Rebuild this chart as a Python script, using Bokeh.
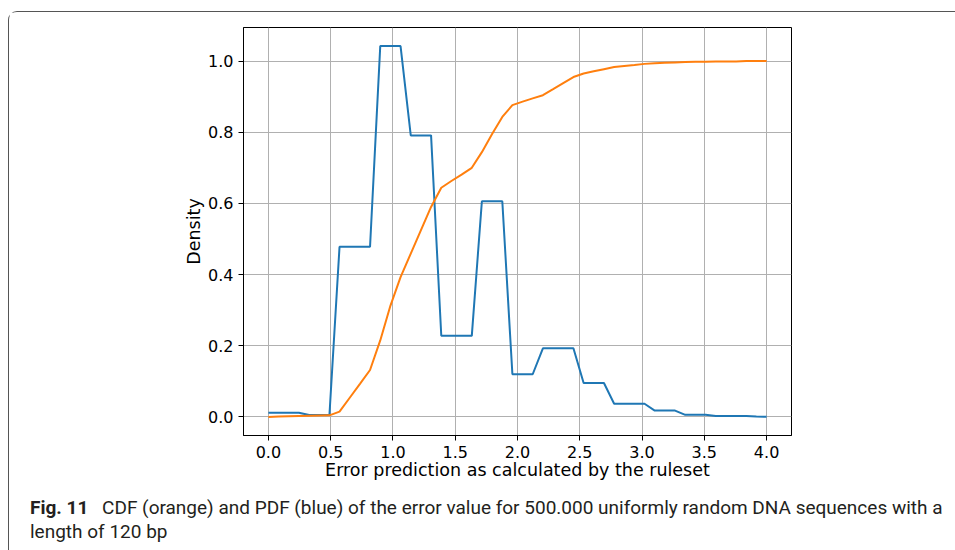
from bokeh.plotting import figure
from bokeh.models import Range1d, FixedTicker, ColumnDataSource, Div
from bokeh.layouts import column
from bokeh.embed import file_html
from bokeh.resources import INLINE

# sample positions (error value)
x_vals = [0.000, 0.082, 0.163, 0.245, 0.327, 0.408, 0.490, 0.571, 0.653, 0.735,
          0.816, 0.898, 0.980, 1.061, 1.143, 1.224, 1.306, 1.388, 1.469, 1.551,
          1.633, 1.714, 1.796, 1.878, 1.959, 2.041, 2.122, 2.204, 2.286, 2.367,
          2.449, 2.531, 2.612, 2.694, 2.776, 2.857, 2.939, 3.020, 3.102, 3.184,
          3.265, 3.347, 3.429, 3.510, 3.592, 3.673, 3.755, 3.837, 3.918, 4.000]

# PDF (blue)
pdf_vals = [0.012, 0.012, 0.012, 0.012, 0.0056, 0.0056, 0.0056, 0.478, 0.478, 0.478,
            0.478, 1.042, 1.042, 1.042, 0.791, 0.791, 0.791, 0.228, 0.228, 0.228,
            0.228, 0.606, 0.606, 0.606, 0.120, 0.120, 0.120, 0.193, 0.193, 0.193,
            0.193, 0.0955, 0.0955, 0.0955, 0.037, 0.037, 0.037, 0.037, 0.018, 0.018,
            0.018, 0.006, 0.006, 0.006, 0.0025, 0.0025, 0.0025, 0.0025, 0.0012, 0.0005]

# CDF (orange)
cdf_vals = [0.000, 0.001, 0.002, 0.003, 0.0035, 0.004, 0.0045, 0.015, 0.054, 0.093,
            0.132, 0.215, 0.313, 0.393, 0.459, 0.524, 0.590, 0.644, 0.663, 0.681,
            0.700, 0.744, 0.795, 0.843, 0.876, 0.886, 0.895, 0.904, 0.921, 0.938,
            0.955, 0.965, 0.971, 0.977, 0.983, 0.986, 0.989, 0.992, 0.994, 0.995,
            0.996, 0.997, 0.998, 0.998, 0.999, 0.999, 0.999, 1.000, 1.000, 1.000]

x_ticks = [0.0, 0.5, 1.0, 1.5, 2.0, 2.5, 3.0, 3.5, 4.0]
y_ticks = [0.0, 0.2, 0.4, 0.6, 0.8, 1.0]

x_label = "Error prediction as calculated by the ruleset"
y_label = "Density"
caption_bold = "Fig. 11"
caption_line1 = "CDF (orange) and PDF (blue) of the error value for 500.000 uniformly random DNA sequences with a"
caption_line2 = "length of 120 bp"

src = ColumnDataSource(dict(x=x_vals, pdf=pdf_vals, cdf=cdf_vals))

p = figure(width=946, height=478, output_backend="svg", toolbar_location=None,
           x_range=Range1d(-0.2, 4.2), y_range=Range1d(-0.0521, 1.0942),
           min_border_left=234, min_border_right=164, min_border_top=15,
           min_border_bottom=55, frame_width=548, frame_height=408)

p.line("x", "pdf", source=src, line_color="#1f77b4", line_width=2)
p.line("x", "cdf", source=src, line_color="#ff7f0e", line_width=2)

p.xaxis.ticker = FixedTicker(ticks=x_ticks)
p.yaxis.ticker = FixedTicker(ticks=y_ticks)
p.xaxis.major_label_overrides = {t: f"{t:.1f}" for t in x_ticks}
p.yaxis.major_label_overrides = {t: f"{t:.1f}" for t in y_ticks}

for ax in (p.xaxis[0], p.yaxis[0]):
    ax.axis_line_color = "black"
    ax.major_tick_line_color = "black"
    ax.major_tick_out = 5
    ax.major_tick_in = 0
    ax.minor_tick_line_color = None
    ax.major_label_text_font = "DejaVu Sans"
    ax.major_label_text_font_size = "16px"
    ax.major_label_text_color = "black"
    ax.axis_label_text_font = "DejaVu Sans"
    ax.axis_label_text_font_size = "17.5px"
    ax.axis_label_text_font_style = "normal"
    ax.axis_label_text_color = "black"

p.xaxis.axis_label = x_label
p.yaxis.axis_label = y_label
p.xaxis.major_label_standoff = 5
p.yaxis.major_label_standoff = 5
p.xaxis.axis_label_standoff = -1
p.yaxis.axis_label_standoff = 1

p.grid.grid_line_color = "#b0b0b0"
p.grid.grid_line_width = 1
p.outline_line_color = "black"
p.outline_line_width = 1
p.background_fill_color = "white"
p.border_fill_color = "white"

# caption
cap_html = (
    '<div style="font-family: Roboto, sans-serif; font-size: 19px; line-height: 24px; '
    'color: #231f20; padding-left: 16px; padding-top: 1px; white-space: nowrap;">'
    f'<b style="margin-right: 9px;">{caption_bold}</b> {caption_line1}<br>{caption_line2}</div>'
)
cap = Div(text=cap_html, width=946, height=60)

layout = column(p, cap, spacing=0)
layout.styles = {"margin-left": "8px", "margin-top": "11px",
                 "border-left": "1px solid #555555", "border-top": "1px solid #555555",
                 "border-top-left-radius": "9px", "background-color": "white"}

open("out.html", "w").write(file_html(layout, INLINE))
